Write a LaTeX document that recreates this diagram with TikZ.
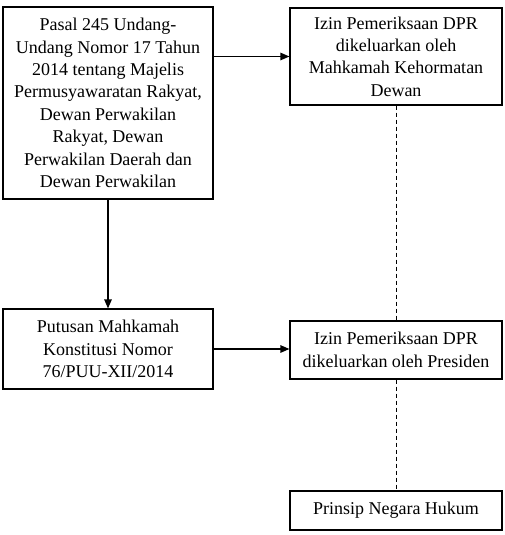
\documentclass[tikz,border=0pt]{standalone}
\usepackage{fontspec}
\setmainfont{Liberation Serif}
\usetikzlibrary{arrows.meta}
\begin{document}
\begin{tikzpicture}[x=1pt,y=-1pt,
  box/.style={draw, line width=1.2pt, inner sep=0pt, align=center, font=\fontsize{18}{22.4}\selectfont},
  arr/.style={line width=1.2pt, -{Triangle[length=9pt,width=7.5pt]}},
  dashline/.style={line width=1pt, dash pattern=on 4pt off 3pt}]
\useasboundingbox (0,0) rectangle (505,535);
\node[box, minimum width=210pt, minimum height=192pt] (A) at (108,103)
  {Pasal 245 Undang-\\Undang Nomor 17 Tahun\\2014 tentang Majelis\\Permusyawaratan Rakyat,\\Dewan Perwakilan\\Rakyat, Dewan\\Perwakilan Daerah dan\\Dewan Perwakilan};
\node[box, minimum width=212pt, minimum height=97pt] (B) at (396,56.5)
  {Izin Pemeriksaan DPR\\dikeluarkan oleh\\Mahkamah Kehormatan\\Dewan};
\node[box, minimum width=210pt, minimum height=80pt] (C) at (108,349)
  {Putusan Mahkamah\\Konstitusi Nomor\\76/PUU-XII/2014};
\node[box, minimum width=212pt, minimum height=58pt] (D) at (396,350)
  {Izin Pemeriksaan DPR\\dikeluarkan oleh Presiden};
\node[box, minimum width=212pt, minimum height=39pt] (E) at (396,510.5)
  {Prinsip Negara Hukum};
\draw[arr] (A.east |- B.west) -- (B.west);
\draw[arr] (C.east) -- (C.east -| D.west);
\draw[arr] (A.south) -- (C.north);
\draw[dashline] (B.south) -- (D.north);
\draw[dashline] (D.south) -- (E.north);
\end{tikzpicture}
\end{document}
